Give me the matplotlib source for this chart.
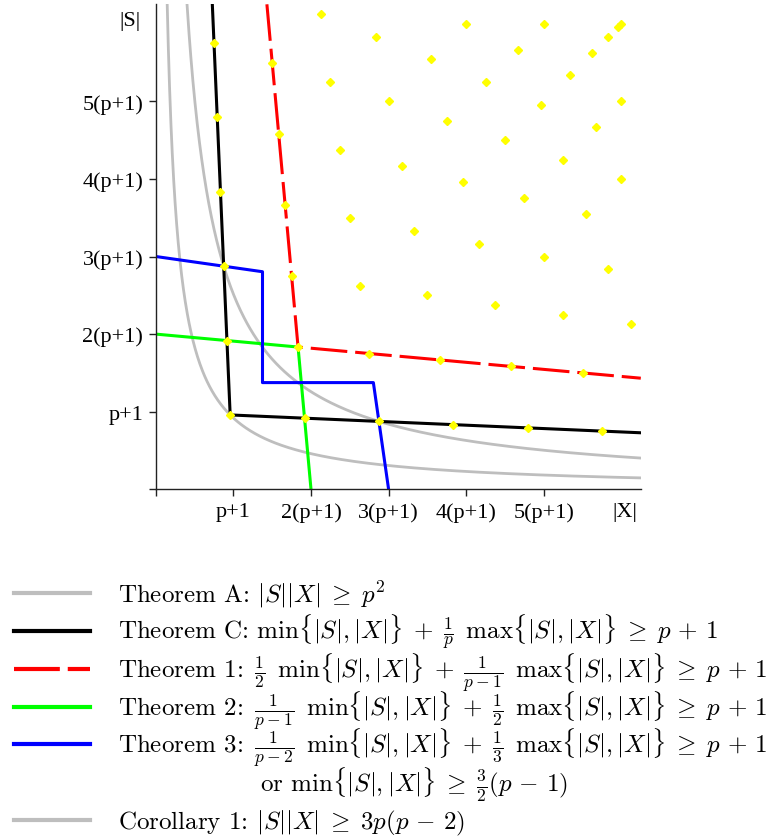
import numpy as np
import matplotlib
matplotlib.use("Agg")
import matplotlib.pyplot as plt
from matplotlib.lines import Line2D

plt.rcParams['mathtext.fontset'] = 'cm'

# p = 23, unit on both axes is p+1 = 24
unit = 24
tick_pos = [0, 24, 48, 72, 96, 120]
tick_lab = ['', 'p+1', '2(p+1)', '3(p+1)', '4(p+1)', '5(p+1)']

# hyperbolas |S||X| = const
prod_thmA = 529     # p^2
prod_cor1 = 1449    # 3p(p-2)

# boundary polylines (|X|, |S|)
thmC_x = [17.48, 23, 150]
thmC_s = [150, 23, 17.48]
thm1_x = [34.36, 44, 150]
thm1_s = [150, 44, 34.36]
thm2_x = [0, 44, 48]
thm2_s = [48, 44, 0]
thm3_x = [0, 33, 33, 67.29, 72]
thm3_s = [72, 67.29, 33, 33, 0]

# yellow points
pts_x = [23, 46, 69, 92, 115, 138,
         22, 44, 66, 88, 110, 132,
         21, 42, 63, 84, 105, 126, 147,
         20, 40, 60, 80, 100, 120, 140,
         19, 38, 57, 76, 95, 114, 133,
         18, 36, 54, 72, 90, 108, 126, 144,
         51, 68, 85, 102, 119, 136,
         96, 112, 128, 144,
         120, 135, 140, 143, 144]
pts_s = [23, 22, 21, 20, 19, 18,
         46, 44, 42, 40, 38, 36,
         69, 66, 63, 60, 57, 54, 51,
         92, 88, 84, 80, 76, 72, 68,
         115, 110, 105, 100, 95, 90, 85,
         138, 132, 126, 120, 114, 108, 102, 96,
         147, 140, 133, 126, 119, 112,
         144, 136, 128, 120,
         144, 135, 140, 143, 144]

W, H = 783, 837
fig = plt.figure(figsize=(W / 100, H / 100), dpi=100)
ax = fig.add_axes([155.8 / W, 1 - 490.3 / H, 485 / W, 485 / H])

grey = '#bebebe'
for c in (prod_thmA, prod_cor1):
    xs = np.geomspace(c / 150, 150, 400)
    ax.plot(xs, c / xs, color=grey, lw=2.0, zorder=1)

ax.plot(thmC_x, thmC_s, color='black', lw=2.2, zorder=3)
ax.plot(thm1_x, thm1_s, color='red', lw=2.2, ls=(0, (12, 2.6)), zorder=3)
ax.plot(thm2_x, thm2_s, color='#00ff00', lw=2.2, zorder=2)
ax.plot(thm3_x, thm3_s, color='blue', lw=2.2, zorder=2)
ax.plot(pts_x, pts_s, ls='none', marker='D', ms=4, color='#ffff00',
        mec='#ffff00', zorder=5)

ax.set_xlim(0, 150)
ax.set_ylim(0, 150)
for side in ('top', 'right'):
    ax.spines[side].set_visible(False)
for side in ('left', 'bottom'):
    ax.spines[side].set_color('#222222')
    ax.spines[side].set_linewidth(1.0)

ax.set_xticks(tick_pos)
ax.set_xticklabels(tick_lab)
ax.set_yticks(tick_pos)
ax.set_yticklabels(tick_lab)
ax.tick_params(length=5, width=1, pad=4, color='#222222')
for lab in ax.get_xticklabels() + ax.get_yticklabels():
    lab.set_fontfamily('Liberation Serif')
    lab.set_fontsize(16)

ax.text(145, -3.9, '|X|', ha='center', va='top', fontfamily='Liberation Serif',
        fontsize=16)
ax.text(-4.6, 145, '|S|', ha='right', va='center', fontfamily='Liberation Serif',
        fontsize=16)

# legend below the plot
mn = r'\min\{|S|,|X|\}'
mx = r'\max\{|S|,|X|\}'
ge = r'\;\geq\; p\,+\,1$'
rows = [
    (grey, '-', r'Theorem A: $|S||X|\;\geq\; p^2$'),
    ('black', '-', r'Theorem C: $' + mn + r'\;+\;\frac{1}{p}\ \, ' + mx + ge),
    ('red', '--', r'Theorem 1: $\,\frac{1}{2}\ \, ' + mn + r'\;+\;\frac{1}{p-1}\ \, ' + mx + ge),
    ('#00ff00', '-', r'Theorem 2: $\,\frac{1}{p-1}\ \, ' + mn + r'\;+\;\frac{1}{2}\ \, ' + mx + ge),
    ('blue', '-', r'Theorem 3: $\,\frac{1}{p-2}\ \, ' + mn + r'\;+\;\frac{1}{3}\ \, ' + mx + ge),
    (None, None, r'or $' + mn + r'\;\geq\;\frac{3}{2}(p\,-\,1)$'),
    (grey, '-', r'Corollary 1: $|S||X|\;\geq\; 3p(p\,-\,2)$'),
]
baselines = [602, 640, 678, 716, 753, 791, 829]
for (col, style, text), by in zip(rows, baselines):
    tx = 118
    if col is None:
        tx = 260
    else:
        ly = 1 - (by - 8.5) / H
        ls = (0, (11, 1.9)) if style == '--' else '-'
        fig.add_artist(Line2D([14 / W, 90 / W], [ly, ly], color=col, lw=3,
                              ls=ls, transform=fig.transFigure))
    fig.text(tx / W, 1 - by / H, text, va='baseline', ha='left',
             fontfamily='cmr10', fontsize=18)

fig.savefig('out.png', dpi=100)
